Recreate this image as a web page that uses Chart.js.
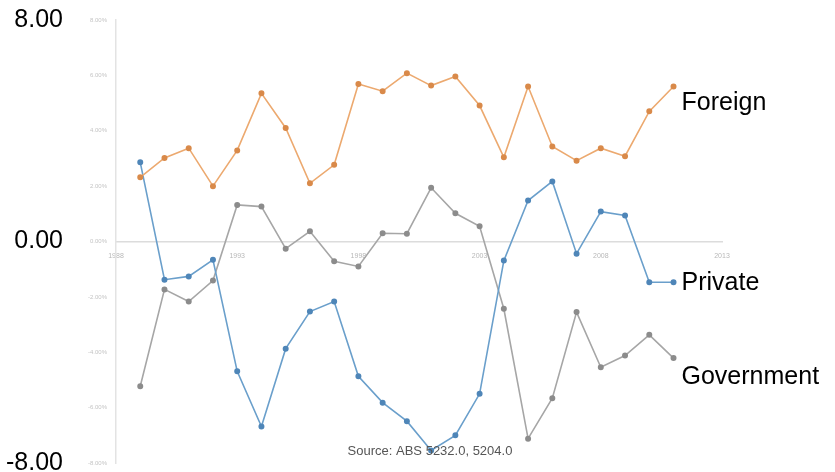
<!DOCTYPE html>
<html>
<head>
<meta charset="utf-8">
<script src="https://cdn.jsdelivr.net/npm/chart.js@4.4.0/dist/chart.umd.min.js"></script>
<style>
  html, body { margin: 0; padding: 0; background: #fff; }
  #wrap { width: 835px; height: 472px; }
</style>
</head>
<body>
<div id="wrap"><canvas id="myChart"></canvas></div>
<script>
// years (financial years), one point each
const years = [1989, 1990, 1991, 1992, 1993, 1994, 1995, 1996, 1997, 1998, 1999, 2000,
               2001, 2002, 2003, 2004, 2005, 2006, 2007, 2008, 2009, 2010, 2011];
// balances, % of GDP
const foreign = [2.32, 3.02, 3.37, 2.00, 3.29, 5.35, 4.10, 2.10, 2.77, 5.69, 5.43, 6.08,
                 5.63, 5.96, 4.91, 3.04, 5.60, 3.43, 2.92, 3.37, 3.08, 4.70, 5.60];
const privateBal = [2.86, -1.38, -1.26, -0.66, -4.69, -6.68, -3.87, -2.53, -2.17, -4.87, -5.82, -6.49,
                    -7.55, -7.00, -5.50, -0.69, 1.48, 2.17, -0.44, 1.08, 0.94, -1.47, -1.47];
const government = [-5.23, -1.73, -2.17, -1.41, 1.32, 1.26, -0.26, 0.37, -0.71, -0.90, 0.30, 0.28,
                    1.94, 1.02, 0.55, -2.43, -7.12, -5.66, -2.55, -4.54, -4.12, -3.37, -4.21];
const seriesNames = ['Foreign', 'Private', 'Government'];
const nameLevels = [5.0, -1.52, -4.88];   // where the end labels sit on the y scale
const bigTicks = [-8, 0, 8];
const smallTicks = [-8, -6, -4, -2, 0, 2, 4, 6, 8];
const xMin = 1988, xMax = 2013, xStep = 5;
const sourceText = 'Source: ABS 5232.0, 5204.0';

const colors = ['#eca96f', '#6a9fcb', '#a6a6a6'];
const dotColors = ['#d98a4a', '#4f86b8', '#8c8c8c'];

function pts(vals) {
  return vals.map((v, i) => ({ x: years[i], y: v }));
}

const labelsPlugin = {
  id: 'endLabels',
  afterDatasetsDraw(chart) {
    const ctx = chart.ctx;
    const xs = chart.scales.x, ys = chart.scales.y;
    const lastX = xs.getPixelForValue(years[years.length - 1]);
    ctx.save();
    ctx.fillStyle = '#000';
    ctx.font = '25px "Liberation Sans", Arial, sans-serif';
    ctx.textBaseline = 'middle';
    ctx.textAlign = 'left';
    seriesNames.forEach((n, i) => {
      ctx.fillText(n, lastX + 8, ys.getPixelForValue(nameLevels[i]));
    });
    ctx.font = '13px "Liberation Sans", Arial, sans-serif';
    ctx.fillStyle = '#555';
    ctx.textAlign = 'center';
    ctx.fillText(sourceText, chart.chartArea.left + 314, chart.chartArea.bottom - 12);
    ctx.restore();
  }
};

var ctx = document.getElementById('myChart').getContext('2d');
var myChart = new Chart(ctx, {
  type: 'line',
  data: {
    datasets: [foreign, privateBal, government].map((d, i) => ({
      label: seriesNames[i],
      data: pts(d),
      borderColor: colors[i],
      backgroundColor: dotColors[i],
      pointBorderColor: dotColors[i],
      borderWidth: 1.6,
      pointRadius: 2.2,
      pointHoverRadius: 2.2,
      tension: 0
    }))
  },
  options: {
    responsive: true,
    maintainAspectRatio: false,
    animation: false,
    layout: { padding: { top: 20, right: 113, bottom: 9, left: 0 } },
    plugins: { legend: { display: false }, tooltip: { enabled: false } },
    scales: {
      x: {
        type: 'linear',
        position: { y: 0 },
        min: xMin, max: xMax,
        grid: { display: false },
        border: { color: '#dcdcdc', width: 1.5 },
        ticks: {
          stepSize: xStep,
          color: '#b8b8b8',
          font: { size: 7 },
          padding: 2,
          callback: v => String(v)
        }
      },
      y: {
        position: 'left',
        weight: 1,
        min: -8, max: 8,
        grid: { display: false, drawTicks: false },
        border: { display: false },
        afterBuildTicks: s => { s.ticks = bigTicks.map(v => ({ value: v })); },
        afterFit: s => { s.width = 68; s.paddingTop = 0; s.paddingBottom = 0; },
        ticks: {
          color: '#000',
          font: { size: 25, family: '"Liberation Sans", Arial, sans-serif' },
          padding: 5,
          callback: v => v.toFixed(2)
        }
      },
      y2: {
        position: 'left',
        weight: 0,
        min: -8, max: 8,
        grid: { display: false, drawTicks: false },
        border: { color: '#e3e3e3', width: 1.5 },
        afterBuildTicks: s => { s.ticks = smallTicks.map(v => ({ value: v })); },
        afterFit: s => { s.width = 48; s.paddingTop = 0; s.paddingBottom = 0; },
        ticks: {
          color: '#c4c4c4',
          font: { size: 6 },
          padding: 9,
          callback: v => v.toFixed(2) + '%'
        }
      }
    }
  },
  plugins: [labelsPlugin]
});
</script>
</body>
</html>
